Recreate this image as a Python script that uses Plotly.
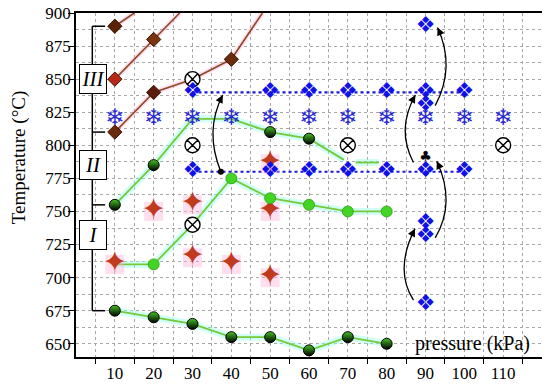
import plotly.graph_objects as go

# ---------------- data ----------------
pressure_ticks = [10, 20, 30, 40, 50, 60, 70, 80, 90, 100, 110]
temp_ticks = [650, 675, 700, 725, 750, 775, 800, 825, 850, 875, 900]

# brown lines (region III)
brown_a_x = [10, 15]
brown_a_y = [890, 900]
brown_b_x = [10, 20, 26.7]
brown_b_y = [850, 880, 900]
brown_c_x = [10, 20, 30, 40, 48]
brown_c_y = [810, 840, 850, 865, 900]
brown_pts_x = [10, 20, 10, 20, 10, 40]
brown_pts_y = [890, 880, 850, 840, 810, 865]
brown_pts_c = ["#5a2008", "#7a3510", "#b8281a", "#5a1c08", "#6a2a0c", "#6a2a0c"]

# green lines
g_low_x = [10, 20, 30, 40, 50, 60, 70, 80]
g_low_y = [675, 670, 665, 655, 655, 645, 655, 650]
g_up_x = [10, 20, 30, 40, 50, 60, 69]
g_up_y = [755, 785, 820, 820, 810, 805, 789]
g_tail_x = [72, 78]
g_tail_y = [787, 787]
g_mid_x = [10, 20, 30, 40, 50, 60, 70, 80]
g_mid_y = [710, 710, 740, 775, 760, 755, 750, 750]

half_x = g_low_x + [10, 20, 50, 60]
half_y = g_low_y + [755, 785, 810, 805]
green_x = [20, 40, 50, 60, 70, 80]
green_y = [710, 775, 760, 755, 750, 750]

# blue diamond clusters
dia_x = [30, 50, 60, 70, 80, 90, 100, 30, 50, 60, 70, 80, 90, 100, 90, 90, 90, 90, 90]
dia_y = [840] * 7 + [780] * 7 + [890, 830, 741, 731, 680]
dot_lines_y = [840, 780]
dot_lines_x = [30, 101]

# snowflakes
snow_x = [10, 20, 30, 40, 50, 60, 70, 80, 90, 100, 110]
snow_y = [820] * 11

# circled crosses
cx_x = [30, 30, 30, 70, 110]
cx_y = [850, 800, 740, 800, 800]

# stars
star_x = [10, 20, 30, 30, 40, 50, 50, 50]
star_y = [710, 750, 755, 715, 710, 750, 700, 786]

# black marks
blk_x = [90]
blk_y = [791]
dot_x = [37.3]
dot_y = [780]

# arrows: start, control, end
arr_start = [(37.3, 780), (86.9, 683), (92.5, 730), (86.9, 787), (92.5, 830)]
arr_ctrl = [(33.0, 811), (81.9, 706), (97.9, 757), (82.4, 812), (97.8, 859)]
arr_end = [(37.8, 838), (87.3, 737), (92.9, 788), (87.4, 838), (93.1, 889)]

# bracket
br_x = 4.2
br_end = 7.5
br_levels = [890, 810, 755, 675]
region_labels = ["III", "II", "I"]
region_x = 4.4
region_y = [850, 785, 732]

FONT = "Liberation Serif, Times New Roman, Times, serif"
GLYPH = "DejaVu Sans"

fig = go.Figure()

# halos
for xs, ys in [(brown_a_x, brown_a_y), (brown_b_x, brown_b_y), (brown_c_x, brown_c_y)]:
    fig.add_trace(go.Scatter(x=xs, y=ys, mode="lines",
                             line=dict(color="rgba(255,150,215,0.3)", width=5),
                             hoverinfo="skip", showlegend=False))
for xs, ys in [(g_low_x, g_low_y), (g_up_x, g_up_y), (g_tail_x, g_tail_y), (g_mid_x, g_mid_y)]:
    fig.add_trace(go.Scatter(x=xs, y=ys, mode="lines",
                             line=dict(color="rgba(150,255,235,0.45)", width=7),
                             hoverinfo="skip", showlegend=False))

# lines
for xs, ys in [(brown_a_x, brown_a_y), (brown_b_x, brown_b_y), (brown_c_x, brown_c_y)]:
    fig.add_trace(go.Scatter(x=xs, y=ys, mode="lines",
                             line=dict(color="#8e4a22", width=1.6),
                             showlegend=False))
for xs, ys in [(g_low_x, g_low_y), (g_up_x, g_up_y), (g_tail_x, g_tail_y), (g_mid_x, g_mid_y)]:
    fig.add_trace(go.Scatter(x=xs, y=ys, mode="lines",
                             line=dict(color="#78c83a", width=1.8),
                             showlegend=False))

# blue dotted lines
for yy in dot_lines_y:
    fig.add_trace(go.Scatter(x=dot_lines_x, y=[yy, yy], mode="lines",
                             line=dict(color="#1a1ad8", width=2.2, dash="dot"),
                             showlegend=False))

# bracket
bx, by = [br_x, br_x, None], [br_levels[0], br_levels[-1], None]
for lv in br_levels:
    bx += [br_x, br_end, None]
    by += [lv, lv, None]
fig.add_trace(go.Scatter(x=bx, y=by, mode="lines",
                         line=dict(color="black", width=1.5), showlegend=False))

# star glow + stars
fig.add_trace(go.Scatter(x=star_x, y=star_y, mode="markers",
                         marker=dict(symbol="square", size=19, color="rgba(255,175,215,0.4)",
                                     line=dict(width=0)), showlegend=False))
fig.add_trace(go.Scatter(x=star_x, y=star_y, mode="text", text=["✦"] * len(star_x),
                         textposition="middle center",
                         textfont=dict(size=30, color="#c03a1e", family=GLYPH),
                         showlegend=False))

# brown diamonds
fig.add_trace(go.Scatter(x=brown_pts_x, y=brown_pts_y, mode="markers",
                         marker=dict(symbol="diamond", size=11, color=brown_pts_c,
                                     line=dict(color="#3a1400", width=1)), showlegend=False))

# green markers
fig.add_trace(go.Scatter(x=green_x, y=green_y, mode="markers",
                         marker=dict(symbol="circle", size=11, color="#44d424",
                                     line=dict(color="#2a9a10", width=0.8)), showlegend=False))
fig.add_trace(go.Scatter(x=half_x, y=half_y, mode="markers",
                         marker=dict(symbol="circle", size=11, color="#44c424",
                                     gradient=dict(type="vertical", color="black"),
                                     line=dict(color="black", width=1)), showlegend=False))

# circled crosses
fig.add_trace(go.Scatter(x=cx_x, y=cx_y, mode="markers",
                         marker=dict(symbol="circle-x", size=15, color="white",
                                     line=dict(color="black", width=1.4)), showlegend=False))

# snowflakes
fig.add_trace(go.Scatter(x=snow_x, y=snow_y, mode="text", text=["❄"] * len(snow_x),
                         textposition="middle center",
                         textfont=dict(size=23, color="#2a2ad0", family=GLYPH),
                         showlegend=False))
# diamonds
fig.add_trace(go.Scatter(x=dia_x, y=dia_y, mode="text", text=["❖"] * len(dia_x),
                         textposition="middle center",
                         textfont=dict(size=22, color="#1010e8", family=GLYPH),
                         showlegend=False))
# black marks
fig.add_trace(go.Scatter(x=blk_x, y=blk_y, mode="text", text=["♣"],
                         textposition="middle center",
                         textfont=dict(size=14, color="black", family=GLYPH),
                         showlegend=False))
fig.add_trace(go.Scatter(x=dot_x, y=dot_y, mode="markers",
                         marker=dict(symbol="circle", size=6, color="black"), showlegend=False))

shapes = []
annotations = []
for (x0, y0), (cxp, cyp), (x1, y1) in zip(arr_start, arr_ctrl, arr_end):
    shapes.append(dict(type="path", xref="x", yref="y",
                       path=f"M {x0},{y0} Q {cxp},{cyp} {x1},{y1}",
                       line=dict(color="black", width=1.3)))
    annotations.append(dict(x=x1, y=y1, ax=x1 - 0.15 * (x1 - cxp), ay=y1 - 0.15 * (y1 - cyp),
                            xref="x", yref="y", axref="x", ayref="y", text="",
                            showarrow=True, arrowhead=2, arrowsize=1.2, arrowwidth=1.3,
                            arrowcolor="black"))

for lab, yy in zip(region_labels, region_y):
    annotations.append(dict(x=region_x, y=yy, xref="x", yref="y", text=f"<i>{lab}</i>",
                            showarrow=False, bgcolor="white", bordercolor="black",
                            borderwidth=1, width=26, height=28, borderpad=0,
                            font=dict(family=FONT, size=21, color="black")))

annotations.append(dict(x=102, y=650.5, xref="x", yref="y", text="pressure (kPa)",
                        showarrow=False, font=dict(family=FONT, size=20, color="black")))

annotations.append(dict(x=0, y=0.578, xref="paper", yref="paper", xshift=-57,
                        xanchor="center", yanchor="middle",
                        text="Temperature (°C)", textangle=-90, showarrow=False,
                        font=dict(family=FONT, size=19, color="black")))

# the page body has an 8px default margin, so the figure is 8px smaller
fig.update_layout(
    width=542, height=381,
    margin=dict(l=68, r=8, t=5, b=32),
    paper_bgcolor="white", plot_bgcolor="white",
    shapes=shapes, annotations=annotations,
    showlegend=False,
    font=dict(family=FONT, size=17, color="black"),
)

x_grid = [5 * i for i in range(1, 24)]
fig.update_xaxes(
    range=[0, 120], automargin=False,
    tickvals=x_grid, ticktext=[str(v) if v in pressure_ticks else "" for v in x_grid],
    ticks="", showline=True, linecolor="black", linewidth=1.5, mirror=True,
    showgrid=True, gridcolor="#a8a8a8", griddash="dot", gridwidth=1,
    minor=dict(tickvals=[5 + 10 * i for i in range(12)], ticks="outside", ticklen=5,
               tickcolor="black", showgrid=False),
    tickfont=dict(family=FONT, size=17), zeroline=False, ticklabeloverflow="allow",
)
y_grid = [650 + 12.5 * i for i in range(21)]
fig.update_yaxes(
    range=[640, 900], automargin=False,
    tickvals=y_grid, ticktext=[str(int(v)) if v in temp_ticks else "" for v in y_grid],
    ticks="", showline=True, linecolor="black", linewidth=1.5, mirror=True,
    showgrid=True, gridcolor="#a8a8a8", griddash="dot", gridwidth=1,
    minor=dict(tickvals=temp_ticks, ticks="outside", ticklen=6, tickcolor="black",
               showgrid=False),
    tickfont=dict(family=FONT, size=17), zeroline=False, ticklabeloverflow="allow",
)

fig.write_html("out.html")
